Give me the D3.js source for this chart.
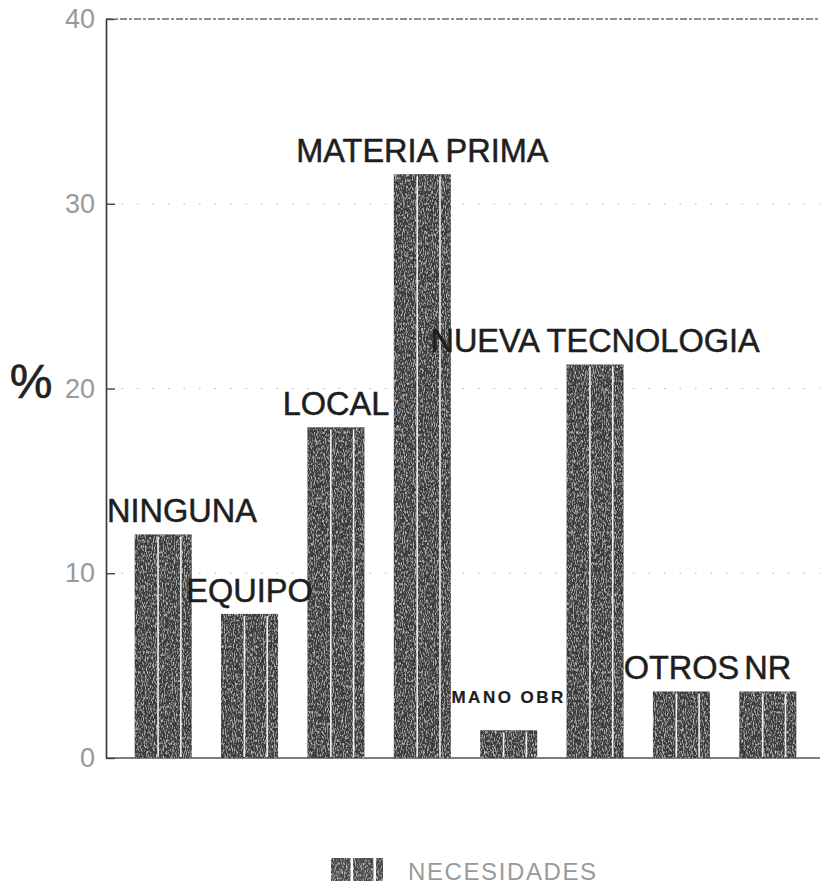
<!DOCTYPE html>
<html>
<head>
<meta charset="utf-8">
<script src="https://cdn.jsdelivr.net/npm/d3@7"></script>
<style>
  html, body { margin: 0; padding: 0; background: #fff; }
  svg { display: block; }
</style>
</head>
<body>
<script>
// ---- data ----
const categories = ["NINGUNA", "EQUIPO", "LOCAL", "MATERIA PRIMA", "MANO OBR", "NUEVA TECNOLOGIA", "OTROS", "NR"];
const values = [12.1, 7.8, 17.9, 31.6, 1.5, 21.3, 3.6, 3.6];
const yTicks = [0, 10, 20, 30, 40];
const yAxisTitle = "%";
const legendLabel = "NECESIDADES";

// ---- layout ----
const W = 820, H = 886;
const axisX = 106, plotRight = 820;
const svg = d3.select("body").append("svg").attr("width", W).attr("height", H);

const defs = svg.append("defs");
const f = defs.append("filter").attr("id", "grain")
  .attr("x", 0).attr("y", 0).attr("width", "100%").attr("height", "100%");
f.append("feTurbulence").attr("type", "fractalNoise").attr("baseFrequency", "1.1 0.35")
  .attr("numOctaves", 2).attr("seed", 3).attr("result", "n");
f.append("feColorMatrix").attr("in", "n").attr("type", "matrix")
  .attr("values", "0 0 0 0 0.78  0 0 0 0 0.78  0 0 0 0 0.78  2.0 0 0 0 -0.95").attr("result", "w");
f.append("feComposite").attr("in", "w").attr("in2", "SourceGraphic").attr("operator", "in").attr("result", "ws");
const fm = f.append("feMerge");
fm.append("feMergeNode").attr("in", "SourceGraphic");
fm.append("feMergeNode").attr("in", "ws");

const x = d3.scaleBand().domain(categories).range([120, 811]).paddingInner(0.34).paddingOuter(0.17);
const y = d3.scaleLinear().domain([0, 40]).range([758, 19]);

// gridlines
svg.append("g").selectAll("line").data(yTicks.filter(t => t > 0 && t < 40)).join("line")
  .attr("x1", axisX).attr("x2", plotRight).attr("y1", d => y(d)).attr("y2", d => y(d))
  .attr("stroke", "#b5b5b5").attr("stroke-width", 1.2).attr("stroke-dasharray", "1.5,14");

// top dashed line
svg.append("line").attr("x1", axisX).attr("x2", plotRight).attr("y1", y(40)).attr("y2", y(40))
  .attr("stroke", "#6a6a6a").attr("stroke-width", 1.4).attr("stroke-dasharray", "7,2,3,2");

// bottom line
svg.append("line").attr("x1", axisX).attr("x2", plotRight).attr("y1", y(0)).attr("y2", y(0))
  .attr("stroke", "#555").attr("stroke-width", 1.3);

// y axis
const yAxis = d3.axisLeft(y).tickValues(yTicks).tickSizeInner(-9).tickSizeOuter(0).tickPadding(11);
const gy = svg.append("g").attr("transform", `translate(${axisX},0)`).call(yAxis);
gy.select(".domain").attr("stroke", "#333").attr("stroke-width", 1.6);
gy.selectAll(".tick line").attr("stroke", "#444").attr("stroke-width", 1.4);
gy.selectAll(".tick text").attr("font-family", "Liberation Sans, Arial, sans-serif")
  .attr("font-size", 27).attr("fill", "#999");

// y title
svg.append("text").attr("x", 31).attr("y", 398).attr("text-anchor", "middle")
  .attr("font-family", "Liberation Sans, Arial, sans-serif").attr("font-size", 48)
  .attr("fill", "#222").attr("stroke", "#222").attr("stroke-width", 0.6)
  .text(yAxisTitle);

// bars
const data = categories.map((c, i) => ({ c, v: values[i] }));
const bars = svg.append("g");
bars.selectAll("rect").data(data).join("rect")
  .attr("x", d => x(d.c)).attr("width", x.bandwidth())
  .attr("y", d => y(d.v)).attr("height", d => y(0) - y(d.v))
  .attr("fill", "#3a3a3a").attr("filter", "url(#grain)");
const stripeFr = [0.41, 0.81];
bars.selectAll("g.stripes").data(data).join("g").attr("class", "stripes")
  .each(function (d) {
    d3.select(this).selectAll("line").data(stripeFr).join("line")
      .attr("x1", fr => x(d.c) + fr * x.bandwidth()).attr("x2", fr => x(d.c) + fr * x.bandwidth())
      .attr("y1", y(d.v) + 2).attr("y2", y(0) - 1)
      .attr("stroke", "#eeeeee").attr("stroke-width", 1.6);
  });

// bar labels
const isSmall = c => c === "MANO OBR";
const lbl = svg.append("g").attr("font-family", "Liberation Sans, Arial, sans-serif");
lbl.selectAll("text").data(data).join("text")
  .attr("font-size", d => isSmall(d.c) ? 17 : 32.5)
  .attr("font-weight", d => isSmall(d.c) ? "bold" : "normal")
  .attr("letter-spacing", d => isSmall(d.c) ? 2.5 : 0)
  .attr("fill", "#1e1e1e").attr("stroke", "#1e1e1e")
  .attr("stroke-width", d => isSmall(d.c) ? 0.2 : 0.5)
  .attr("y", d => y(d.v) - (isSmall(d.c) ? 27 : 12))
  .text(d => d.c)
  .attr("text-anchor", "start")
  .attr("x", function (d) {
    const w = this.getComputedTextLength();
    const cx = x(d.c) + x.bandwidth() / 2;
    return Math.max(axisX + 1, cx - w / 2);
  });

// legend
const lg = svg.append("g");
lg.append("rect").attr("x", 331).attr("y", 858).attr("width", 52).attr("height", 23)
  .attr("fill", "#4a4a4a").attr("filter", "url(#grain)");
[0.40, 0.84].forEach(fr => {
  lg.append("line").attr("x1", 331 + fr * 52).attr("x2", 331 + fr * 52)
    .attr("y1", 858).attr("y2", 881).attr("stroke", "#fff").attr("stroke-width", 2.5);
});
lg.append("text").attr("x", 408).attr("y", 880)
  .attr("font-family", "Liberation Sans, Arial, sans-serif").attr("font-size", 24)
  .attr("letter-spacing", 1.6).attr("fill", "#9a9a9a").text(legendLabel);
</script>
</body>
</html>
